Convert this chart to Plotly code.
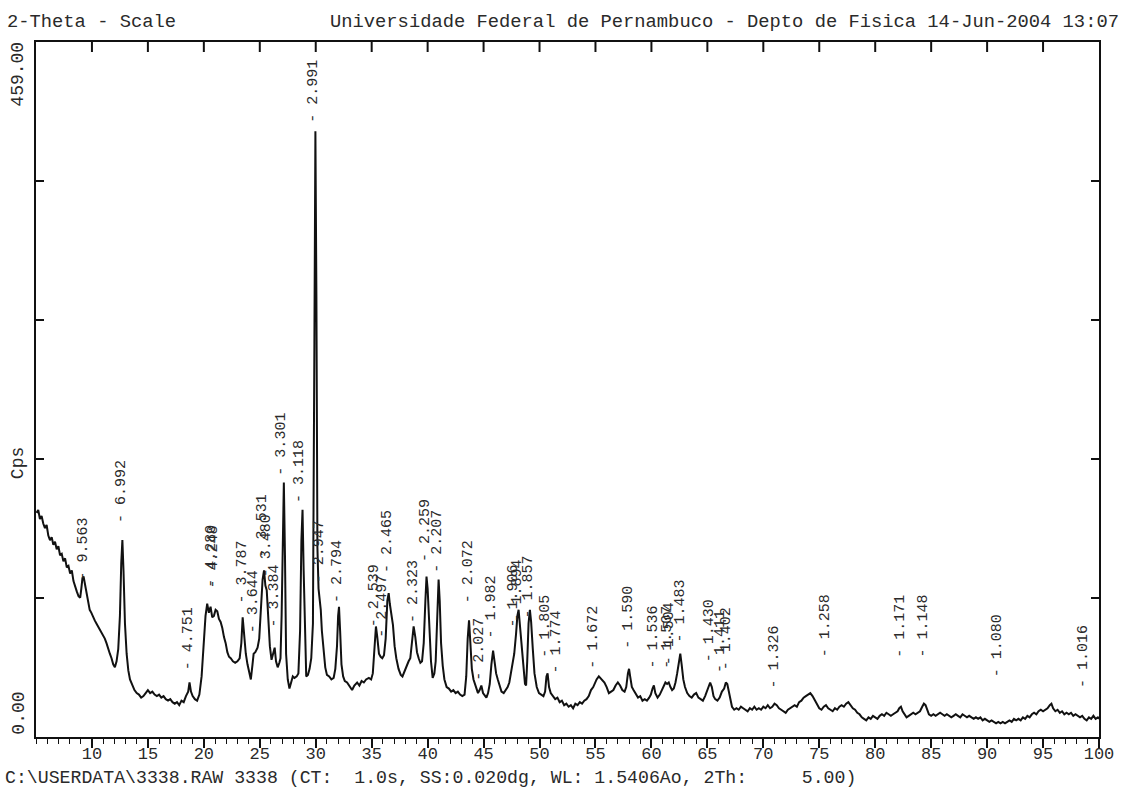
import math
import plotly.graph_objects as go

# X-ray powder diffraction scan, Cu K-alpha, 2-theta 5..100 deg, step 0.02 deg
WAVELENGTH = 1.5406  # angstrom

# (2-theta [deg], intensity [cps])
scan_05_20 = [
    (5.05, 148), (5.2, 150), (5.35, 144), (5.5, 146), (5.65, 141), (5.8, 138), (5.95, 140),
    (6.1, 133), (6.25, 130), (6.4, 132), (6.55, 127), (6.7, 129), (6.85, 124), (7.0, 126),
    (7.15, 120), (7.3, 121), (7.45, 116), (7.6, 118), (7.75, 112), (7.9, 113), (8.05, 108),
    (8.2, 110), (8.35, 103), (8.5, 99), (8.65, 96), (8.8, 93), (8.95, 92), (9.05, 98),
    (9.15, 105), (9.25, 106), (9.35, 102), (9.5, 96), (9.65, 88), (9.8, 84), (9.95, 82),
    (10.1, 79), (10.25, 77), (10.4, 75), (10.55, 73), (10.7, 72), (10.85, 70), (11.0, 68),
    (11.15, 65), (11.3, 62), (11.45, 58), (11.6, 55), (11.75, 52), (11.9, 48), (12.05, 46),
    (12.2, 50), (12.35, 58), (12.5, 80), (12.62, 115), (12.72, 130), (12.82, 110),
    (12.95, 75), (13.1, 55), (13.25, 44), (13.4, 38), (13.6, 34), (13.8, 31), (14.0, 29),
    (14.2, 28), (14.4, 26), (14.6, 27), (14.8, 29), (15.0, 31), (15.2, 29), (15.4, 30),
    (15.6, 28), (15.8, 27), (16.0, 28), (16.2, 26), (16.4, 27), (16.6, 25), (16.8, 24),
    (17.0, 25), (17.2, 23), (17.4, 22), (17.6, 23), (17.8, 21), (18.0, 24), (18.2, 23),
    (18.4, 27), (18.6, 30), (18.72, 36), (18.85, 30), (19.0, 27), (19.2, 25), (19.4, 24),
    (19.6, 28), (19.8, 40),
]

scan_20_31 = [
    (20.0, 60), (20.15, 80), (20.3, 88), (20.45, 82), (20.6, 86), (20.75, 79), (20.9, 80),
    (21.05, 84), (21.2, 83), (21.35, 78), (21.5, 76), (21.65, 72), (21.8, 66), (21.95, 62),
    (22.1, 56), (22.25, 53), (22.4, 52), (22.6, 50), (22.8, 49), (23.0, 50), (23.2, 52),
    (23.35, 62), (23.47, 79), (23.6, 68), (23.75, 55), (23.9, 48), (24.05, 42), (24.2, 38),
    (24.35, 48), (24.45, 55), (24.6, 56), (24.8, 59), (24.95, 65), (25.1, 82), (25.25, 104),
    (25.38, 110), (25.5, 100), (25.62, 97), (25.75, 82), (25.9, 60), (26.05, 51), (26.2, 55),
    (26.33, 59), (26.45, 50), (26.6, 46), (26.75, 49), (26.85, 52), (26.95, 80), (27.05, 140),
    (27.15, 168), (27.25, 120), (27.35, 55), (27.5, 38), (27.65, 32), (27.8, 36), (27.95, 40),
    (28.1, 39), (28.3, 40), (28.45, 42), (28.6, 70), (28.72, 130), (28.82, 150), (28.92, 110),
    (29.05, 55), (29.15, 40), (29.3, 41), (29.45, 45), (29.6, 52), (29.75, 75), (29.88, 260),
    (29.97, 400), (30.06, 290), (30.15, 125), (30.25, 98), (30.35, 92), (30.45, 84),
    (30.55, 70), (30.7, 55), (30.85, 46), (31.0, 41),
]

scan_31_52 = [
    (31.2, 40), (31.4, 38), (31.6, 39), (31.75, 45), (31.9, 60), (32.0, 80), (32.08, 86),
    (32.18, 70), (32.3, 48), (32.45, 40), (32.6, 37), (32.8, 36), (33.0, 34), (33.25, 31),
    (33.45, 34), (33.7, 36), (33.9, 34), (34.1, 37), (34.3, 36), (34.5, 38), (34.75, 39),
    (34.95, 38), (35.1, 42), (35.25, 60), (35.38, 73), (35.5, 66), (35.65, 55), (35.8, 53),
    (35.95, 52), (36.1, 54), (36.25, 65), (36.4, 90), (36.52, 95), (36.62, 88), (36.75, 82),
    (36.9, 74), (37.05, 60), (37.2, 52), (37.4, 45), (37.6, 41), (37.75, 40), (37.9, 43),
    (38.1, 46), (38.3, 50), (38.45, 52), (38.6, 62), (38.75, 73), (38.9, 66), (39.05, 56),
    (39.2, 52), (39.35, 49), (39.5, 50), (39.65, 62), (39.8, 90), (39.9, 106), (40.0, 98),
    (40.15, 70), (40.3, 50), (40.45, 39), (40.6, 42), (40.72, 50), (40.85, 80), (40.98, 104),
    (41.08, 90), (41.2, 62), (41.35, 47), (41.5, 38), (41.7, 33), (41.9, 32), (42.1, 30),
    (42.3, 31), (42.5, 29), (42.7, 30), (42.9, 28), (43.1, 27), (43.3, 28), (43.45, 40),
    (43.58, 65), (43.7, 77), (43.82, 62), (43.95, 45), (44.1, 38), (44.3, 33), (44.5, 29),
    (44.65, 31), (44.8, 34), (44.95, 29), (45.1, 27), (45.25, 26), (45.4, 29), (45.55, 35),
    (45.7, 48), (45.85, 57), (45.98, 50), (46.12, 42), (46.27, 38), (46.45, 33), (46.6, 30),
    (46.8, 29), (47.0, 31), (47.15, 33), (47.3, 36), (47.45, 42), (47.6, 50), (47.74, 55),
    (47.9, 68), (48.02, 80), (48.13, 84), (48.25, 75), (48.4, 62), (48.55, 48), (48.7, 35),
    (48.8, 34), (48.9, 50), (49.02, 75), (49.14, 84), (49.25, 76), (49.4, 58), (49.55, 42),
    (49.75, 33), (49.95, 29), (50.15, 28), (50.35, 27), (50.5, 30), (50.62, 40), (50.72, 42),
    (50.85, 33), (51.0, 29), (51.2, 27), (51.4, 25), (51.6, 26), (51.8, 23), (52.0, 24),
]

scan_52_67 = [
    (52.2, 21), (52.4, 22), (52.6, 20), (52.8, 21), (53.0, 19), (53.2, 22), (53.4, 21),
    (53.6, 23), (53.8, 22), (54.0, 24), (54.2, 25), (54.4, 27), (54.6, 31), (54.8, 33),
    (54.95, 36), (55.1, 38), (55.3, 40), (55.45, 39), (55.6, 38), (55.8, 36), (56.0, 33),
    (56.2, 29), (56.4, 30), (56.6, 31), (56.8, 34), (57.0, 36), (57.2, 34), (57.4, 31),
    (57.6, 30), (57.75, 33), (57.9, 42), (58.0, 45), (58.1, 40), (58.25, 33), (58.4, 31),
    (58.6, 28), (58.8, 26), (59.0, 27), (59.2, 24), (59.4, 25), (59.6, 24), (59.8, 26),
    (59.95, 28), (60.1, 32), (60.22, 34), (60.35, 29), (60.55, 26), (60.75, 28), (60.95, 31),
    (61.1, 33), (61.25, 36), (61.4, 35), (61.55, 36), (61.7, 33), (61.85, 31), (62.0, 32),
    (62.15, 36), (62.3, 42), (62.45, 50), (62.58, 55), (62.7, 48), (62.85, 38), (63.0, 33),
    (63.2, 29), (63.4, 27), (63.6, 26), (63.8, 28), (64.0, 29), (64.2, 26), (64.4, 25),
    (64.6, 24), (64.8, 27), (64.95, 30), (65.1, 34), (65.25, 36), (65.4, 33), (65.55, 27),
    (65.7, 25), (65.9, 24), (66.1, 26), (66.3, 30), (66.5, 32), (66.65, 36), (66.78, 35),
    (66.9, 31), (67.05, 26), (67.2, 20),
]

scan_67_100 = [
    (67.4, 18), (67.6, 19), (67.8, 18), (68.0, 20), (68.2, 19), (68.4, 18), (68.6, 17),
    (68.8, 19), (69.0, 18), (69.2, 20), (69.4, 18), (69.6, 19), (69.8, 18), (70.0, 20),
    (70.2, 19), (70.4, 21), (70.6, 19), (70.8, 20), (71.0, 22), (71.2, 21), (71.4, 19),
    (71.6, 18), (71.8, 17), (72.0, 16), (72.2, 18), (72.4, 19), (72.6, 20), (72.8, 21),
    (73.0, 20), (73.2, 23), (73.4, 24), (73.6, 26), (73.8, 27), (74.0, 28), (74.2, 29),
    (74.4, 27), (74.6, 24), (74.8, 21), (75.0, 19), (75.2, 18), (75.4, 20), (75.6, 21),
    (75.8, 19), (76.0, 18), (76.2, 17), (76.4, 19), (76.6, 18), (76.8, 20), (77.0, 21),
    (77.2, 20), (77.4, 22), (77.6, 23), (77.8, 21), (78.0, 19), (78.2, 18), (78.4, 16),
    (78.6, 15), (78.8, 13), (79.0, 12), (79.2, 11), (79.4, 13), (79.6, 12), (79.8, 14),
    (80.0, 13), (80.2, 12), (80.4, 14), (80.6, 15), (80.8, 14), (81.0, 16), (81.2, 15),
    (81.4, 14), (81.6, 15), (81.8, 16), (82.0, 17), (82.15, 19), (82.3, 20), (82.45, 17),
    (82.6, 15), (82.8, 13), (83.0, 14), (83.2, 15), (83.4, 16), (83.6, 15), (83.8, 16),
    (84.0, 17), (84.2, 20), (84.35, 22), (84.5, 21), (84.65, 18), (84.8, 15), (85.0, 14),
    (85.2, 15), (85.4, 14), (85.6, 15), (85.8, 16), (86.0, 15), (86.2, 14), (86.4, 15),
    (86.6, 14), (86.8, 13), (87.0, 14), (87.2, 15), (87.4, 14), (87.6, 13), (87.8, 15),
    (88.0, 14), (88.2, 13), (88.4, 14), (88.6, 13), (88.8, 12), (89.0, 13), (89.2, 12),
    (89.4, 13), (89.6, 11), (89.8, 12), (90.0, 11), (90.2, 10), (90.4, 11), (90.6, 10),
    (90.8, 9), (91.0, 10), (91.2, 9), (91.4, 10), (91.6, 9), (91.8, 10), (92.0, 11),
    (92.2, 10), (92.4, 12), (92.6, 11), (92.8, 12), (93.0, 11), (93.2, 13), (93.4, 12),
    (93.6, 14), (93.8, 13), (94.0, 15), (94.2, 16), (94.4, 15), (94.6, 17), (94.8, 18),
    (95.0, 17), (95.2, 18), (95.4, 19), (95.6, 21), (95.75, 22), (95.9, 19), (96.1, 17),
    (96.3, 18), (96.5, 16), (96.7, 17), (96.9, 15), (97.1, 16), (97.3, 15), (97.5, 16),
    (97.7, 14), (97.9, 15), (98.1, 14), (98.3, 13), (98.5, 14), (98.7, 12), (98.9, 11),
    (99.1, 13), (99.3, 12), (99.5, 14), (99.7, 12), (99.9, 13), (100.0, 12),
]

# Peak search results: d-spacing [angstrom] and the height the label sits at [cps]
peak_d = [
    9.563, 6.992, 4.751, 4.280, 4.248, 3.787, 3.644, 3.531, 3.480, 3.384, 3.301, 3.118,
    2.991, 2.947, 2.794, 2.539, 2.497, 2.465, 2.323, 2.259, 2.207, 2.072, 2.027, 1.982,
    1.906, 1.894, 1.857, 1.805, 1.774, 1.672, 1.590, 1.536, 1.507, 1.504, 1.483, 1.430,
    1.411, 1.402, 1.326, 1.258, 1.171, 1.148, 1.080, 1.016,
]
peak_label_y = [
    102, 140, 43, 97, 97, 87, 67, 117, 104, 71, 171, 153,
    404, 100, 87, 71, 64, 107, 74, 114, 107, 87, 36, 64,
    71, 74, 77, 51, 41, 44, 57, 44, 44, 46, 61, 48,
    41, 43, 31, 51, 51, 51, 38, 31,
]

x_tick_values = list(range(10, 101, 5))
top_tick_values = list(range(10, 100, 5))
y_max = 459.0

header_left = "2-Theta - Scale"
header_right = "Universidade Federal de Pernambuco - Depto de Fisica 14-Jun-2004 13:07"
footer = "C:\\USERDATA\\3338.RAW 3338 (CT:  1.0s, SS:0.020dg, WL: 1.5406Ao, 2Th:     5.00)"

FONT = "Liberation Mono, Courier New, monospace"
INK = "#2a2a2a"
LINE = "#111111"

segments = [scan_05_20, scan_20_31, scan_31_52, scan_52_67, scan_67_100]
two_theta = [p[0] for seg in segments for p in seg]
counts = [p[1] for seg in segments for p in seg]


def bragg_two_theta(d):
    """2-theta position (deg) of a reflection with spacing d for the Cu K-alpha line."""
    return 2.0 * math.degrees(math.asin(WAVELENGTH / (2.0 * d)))


plot_left, plot_right, plot_top, plot_bottom = 36, 1108, 42, 737
pw = plot_right - plot_left
ph = plot_bottom - plot_top
top_tick_len = 10  # px, pointing down from the top frame


def px_x(px):
    return (px - plot_left) / pw


def px_y(py):
    return (plot_bottom - py) / ph


fig = go.Figure()
fig.add_trace(go.Scatter(
    x=two_theta, y=counts, mode="lines",
    line=dict(color=LINE, width=2),
    showlegend=False, hoverinfo="skip",
))

annotations = []
for d, ly in zip(peak_d, peak_label_y):
    annotations.append(dict(
        x=bragg_two_theta(d), y=ly, xref="x", yref="y",
        text=f"- {d:.3f}", textangle=-90, showarrow=False,
        xanchor="center", yanchor="bottom",
        font=dict(family=FONT, size=15, color=INK),
    ))

annotations += [
    dict(x=px_x(5), y=px_y(22), xref="paper", yref="paper", text=header_left,
         showarrow=False, xanchor="left", yanchor="middle",
         font=dict(family=FONT, size=18.8, color=INK)),
    dict(x=px_x(330), y=px_y(22), xref="paper", yref="paper", text=header_right,
         showarrow=False, xanchor="left", yanchor="middle",
         font=dict(family=FONT, size=18.8, color=INK)),
    dict(x=px_x(3), y=px_y(778), xref="paper", yref="paper", text=footer,
         showarrow=False, xanchor="left", yanchor="middle",
         font=dict(family=FONT, size=18.2, color=INK)),
    dict(x=px_x(18), y=px_y(40), xref="paper", yref="paper", text=f"{y_max:.2f}",
         textangle=-90, showarrow=False, xanchor="center", yanchor="top",
         font=dict(family=FONT, size=18, color=INK)),
    dict(x=px_x(18), y=0.0, xref="paper", yref="paper", text="0.00",
         textangle=-90, showarrow=False, xanchor="center", yanchor="bottom",
         font=dict(family=FONT, size=18, color=INK)),
    dict(x=px_x(18), y=px_y(463), xref="paper", yref="paper", text="Cps",
         textangle=-90, showarrow=False, xanchor="center", yanchor="middle",
         font=dict(family=FONT, size=18, color=INK)),
]

# inward tick marks along the top frame at every 5 degrees
top_ticks = [
    dict(type="line", xref="x", yref="paper", x0=t, x1=t,
         y0=1.0, y1=1.0 - top_tick_len / ph, layer="above",
         line=dict(color=LINE, width=2))
    for t in top_tick_values
]

fig.update_layout(
    width=1126, height=791,
    margin=dict(l=plot_left, r=1126 - plot_right, t=plot_top, b=791 - plot_bottom, pad=0),
    paper_bgcolor="white", plot_bgcolor="white",
    showlegend=False,
    annotations=annotations,
    shapes=top_ticks,
    xaxis=dict(
        range=[5, 100], tickmode="array", tickvals=x_tick_values,
        ticks="outside", ticklen=9, tickwidth=1.5, tickcolor=LINE,
        ticklabelstandoff=-9,
        minor=dict(tickmode="linear", tick0=5, dtick=1, ticks="outside",
                   ticklen=5, tickwidth=1.2, tickcolor=LINE),
        showline=True, linewidth=2, linecolor=LINE, mirror=True,
        showgrid=False, zeroline=False,
        tickfont=dict(family=FONT, size=17, color=INK),
    ),
    yaxis=dict(
        range=[0, y_max], tick0=0, dtick=y_max / 5,
        ticks="inside", ticklen=8, tickwidth=1.8, tickcolor=LINE,
        showticklabels=False,
        showline=True, linewidth=2, linecolor=LINE, mirror="ticks",
        showgrid=False, zeroline=False,
    ),
)

fig.write_html("out.html")
